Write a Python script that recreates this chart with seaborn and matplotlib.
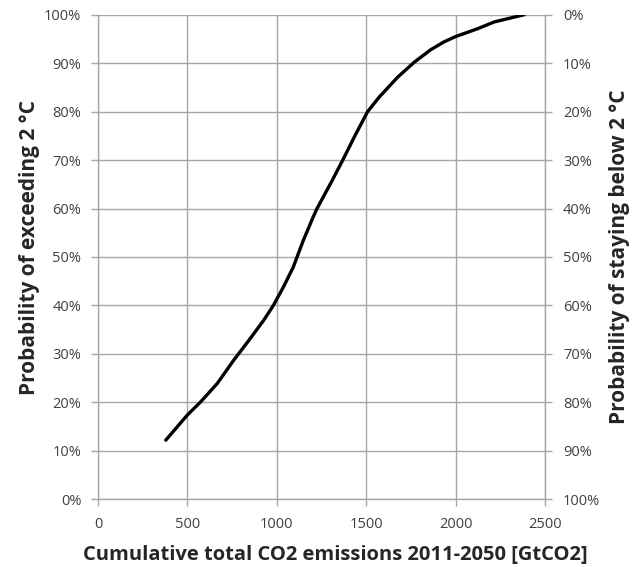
import matplotlib
matplotlib.use('Agg')
from matplotlib import pyplot as plt
from matplotlib.ticker import FuncFormatter
import pandas as pd
import seaborn as sns


# curve
emissions = [379, 500, 574, 667, 759, 852, 926, 981, 1037, 1092, 1148, 1203,
             1225, 1310, 1369, 1434, 1508, 1573, 1676, 1769, 1862, 1936, 2001,
             2123, 2216, 2384]
prob_exceed = [12.2, 17.4, 20.1, 23.9, 28.7, 33.2, 36.9, 40.0, 43.8, 47.9, 53.4,
               58.2, 60.0, 65.8, 70.0, 74.8, 80.0, 83.0, 87.1, 90.2, 92.8, 94.4,
               95.5, 97.1, 98.5, 100.0]

x_ticks = [0, 500, 1000, 1500, 2000, 2500]
y_ticks = [0, 10, 20, 30, 40, 50, 60, 70, 80, 90, 100]

df = pd.DataFrame({'Emissions': emissions, 'Probability': prob_exceed})

sns.set_style('white')
plt.rcParams['font.family'] = ['Open Sans', 'DejaVu Sans']

grid_col = '#a6a6a6'
tick_col = '#404040'

fig = plt.figure(figsize=(6.38, 5.67), dpi=100)
ax = fig.add_axes([0.1536, 0.1194, 0.7006, 0.8547])

sns.lineplot(data=df, x='Emissions', y='Probability', ax=ax,
             color='black', linewidth=2.4)

ax.set_xlim(0, 2500)
ax.set_ylim(0, 100)
ax.set_xticks(x_ticks)
ax.set_yticks(y_ticks)
ax.yaxis.set_major_formatter(FuncFormatter(lambda v, p: '{:.0f}%'.format(v)))
ax.grid(True, color=grid_col, linewidth=1)
ax.tick_params(axis='both', length=5, width=1, color=grid_col,
               labelcolor=tick_col, labelsize=10.5, left=True, bottom=True)
ax.tick_params(axis='y', pad=7)
ax.tick_params(axis='x', pad=8)
for s in ax.spines.values():
    s.set_color(grid_col)
    s.set_linewidth(1)
ax.spines['top'].set_visible(False)

ax.set_xlabel('Cumulative total CO2 emissions 2011-2050 [GtCO2]',
              fontsize=14.5, fontweight='bold', labelpad=9)
ax.xaxis.label.set_x(0.53)
ax.set_ylabel('Probability of exceeding 2 °C', fontsize=15,
              fontweight='bold', labelpad=3)
ax.yaxis.label.set_y(0.52)

# right axis, inverted
ax2 = ax.twinx()
ax2.set_ylim(100, 0)
ax2.set_yticks(y_ticks)
ax2.yaxis.set_major_formatter(FuncFormatter(lambda v, p: '{:.0f}%'.format(v)))
ax2.tick_params(axis='y', length=5, width=1, color=grid_col,
                labelcolor=tick_col, labelsize=10.5, right=True, pad=8)
for s in ax2.spines.values():
    s.set_visible(False)
ax2.set_ylabel('Probability of staying below 2 °C', fontsize=15,
               fontweight='bold', labelpad=6)

plt.savefig('out.png', dpi=100)
